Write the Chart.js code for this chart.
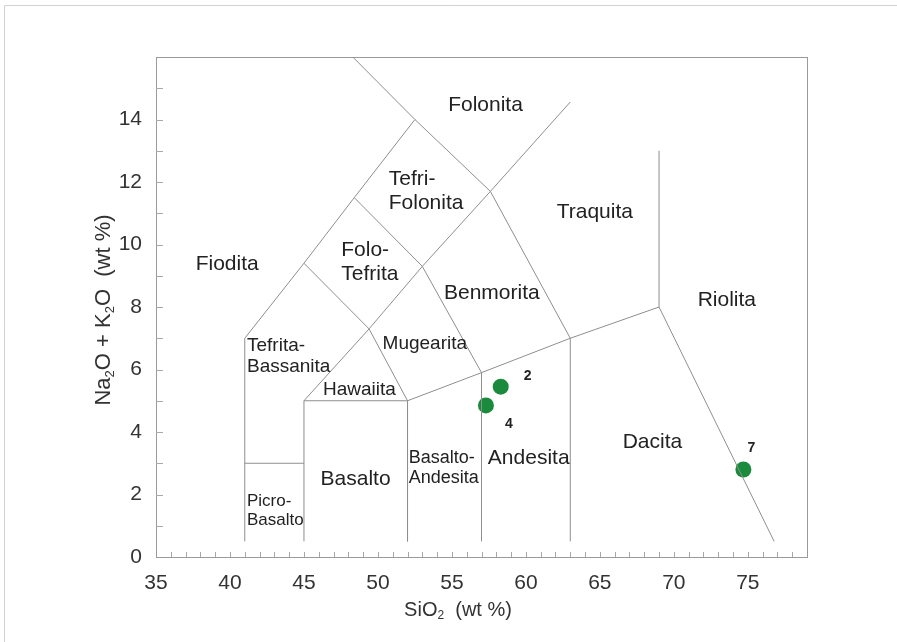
<!DOCTYPE html>
<html>
<head>
<meta charset="utf-8">
<title>TAS</title>
<script src="https://cdn.jsdelivr.net/npm/chart.js@4.4.1/dist/chart.umd.min.js"></script>
<style>
  html, body { margin: 0; padding: 0; background: #fff; }
  #wrap { width: 897px; height: 642px; position: relative; }
</style>
</head>
<body>
<div id="wrap"><canvas id="c" width="897" height="642"></canvas></div>
<script>
// Samples (SiO2 vs Na2O + K2O, wt %)
const sampleIds  = ['2', '4', '7'];
const sampleSiO2 = [58.3, 57.3, 74.7];
const sampleAlk  = [5.45, 4.85, 2.8];

// Axis ranges and labelled ticks
const xRange = [35, 79];
const yRange = [0, 16];
const xTickLabels = [35, 40, 45, 50, 55, 60, 65, 70, 75];
const yTickLabels = [0, 2, 4, 6, 8, 10, 12, 14];

// Field boundary polylines of the TAS classification, [SiO2, Na2O+K2O]
const fieldBoundaries = [
  [[41, 0.5], [41, 7], [45, 9.4], [48.4, 11.5], [52.5, 14], [48.3, 16]],
  [[41, 3], [45, 3]],
  [[45, 0.5], [45, 5], [52, 5], [52, 0.5]],
  [[45, 5], [49.4, 7.3], [53, 9.3], [57.6, 11.7], [63, 14.56]],
  [[45, 9.4], [49.4, 7.3], [52, 5], [57, 5.9], [63, 7], [69, 8], [76.78, 0.5]],
  [[57, 0.5], [57, 5.9]],
  [[63, 0.5], [63, 7]],
  [[69, 8], [69, 13]],
  [[48.4, 11.5], [53, 9.3], [57, 5.9]],
  [[52.5, 14], [57.6, 11.7], [63, 7]]
];

// Field names
const fieldNames = [
  'Folonita', 'Tefri-\nFolonita', 'Traquita', 'Fiodita', 'Folo-\nTefrita',
  'Benmorita', 'Mugearita', 'Riolita', 'Tefrita-\nBassanita', 'Hawaiita',
  'Basalto-\nAndesita', 'Andesita', 'Dacita', 'Basalto', 'Picro-\nBasalto'
];
// Where each name sits: [SiO2, Na2O+K2O, align, font size]
const fieldNamePlacement = [
  [57.27, 14.45, 'center', 21],
  [50.73, 12.08, 'left', 21],
  [64.66, 11.03, 'center', 21],
  [39.81, 9.36, 'center', 21],
  [47.52, 9.82, 'left', 21],
  [57.70, 8.45, 'center', 21],
  [53.17, 6.83, 'center', 19],
  [73.58, 8.22, 'center', 21],
  [41.15, 6.77, 'left', 19],
  [48.75, 5.36, 'center', 19],
  [52.08, 3.18, 'left', 18],
  [60.19, 3.17, 'center', 21],
  [68.55, 3.67, 'center', 21],
  [48.49, 2.50, 'center', 21],
  [41.15, 1.77, 'left', 17]
];
// Offsets (px) of the sample numbers from their markers
const sampleLabelOffsets = [[27, -11], [23, 19], [8, -21]];

const LINE = '#8e8e8e';
const TEXT = '#222';
const FONT = '"Liberation Sans", Arial, sans-serif';

const datasets = fieldBoundaries.map(poly => ({
  type: 'scatter',
  data: poly.map(p => ({ x: p[0], y: p[1] })),
  showLine: true,
  borderColor: LINE,
  borderWidth: 1,
  pointRadius: 0,
  tension: 0,
  fill: false
}));
datasets.push({
  type: 'scatter',
  data: sampleSiO2.map((x, i) => ({ x: x, y: sampleAlk[i] })),
  pointRadius: 8,
  pointHoverRadius: 8,
  backgroundColor: '#1a8a3c',
  borderWidth: 0
});

// Draws a string made of normal/subscript runs, centred on (0,0) of the current transform
function drawRuns(ctx, runs, size) {
  const subSize = Math.round(size * 0.6);
  let total = 0;
  runs.forEach(r => {
    ctx.font = (r[1] ? subSize : size) + 'px ' + FONT;
    total += ctx.measureText(r[0]).width;
  });
  let x = -total / 2;
  ctx.textAlign = 'left';
  ctx.textBaseline = 'middle';
  runs.forEach(r => {
    ctx.font = (r[1] ? subSize : size) + 'px ' + FONT;
    ctx.fillText(r[0], x, r[1] ? size * 0.3 : 0);
    x += ctx.measureText(r[0]).width;
  });
}

const decor = {
  id: 'decor',
  beforeDatasetsDraw(chart) {
    const ctx = chart.ctx;
    const a = chart.chartArea;
    const xs = chart.scales.x, ys = chart.scales.y;
    ctx.save();
    // outer frame
    ctx.strokeStyle = '#d2d2d2';
    ctx.lineWidth = 1;
    ctx.beginPath();
    ctx.moveTo(4.5, 642); ctx.lineTo(4.5, 5.5); ctx.lineTo(897, 5.5);
    ctx.stroke();
    // plot box
    ctx.strokeStyle = '#9a9a9a';
    ctx.strokeRect(Math.round(a.left) + 0.5, Math.round(a.top) + 0.5,
                   Math.round(a.right - a.left), Math.round(a.bottom - a.top));
    // minor ticks pointing inward
    ctx.strokeStyle = '#a8a8a8';
    ctx.beginPath();
    for (let v = xRange[0] + 1; v < xRange[1]; v++) {
      const px = Math.round(xs.getPixelForValue(v)) + 0.5;
      ctx.moveTo(px, a.bottom); ctx.lineTo(px, a.bottom - 5);
    }
    for (let v = yRange[0] + 1; v < yRange[1]; v++) {
      const py = Math.round(ys.getPixelForValue(v)) + 0.5;
      ctx.moveTo(a.left, py); ctx.lineTo(a.left + 7, py);
    }
    ctx.stroke();
    ctx.restore();
  },
  afterDatasetsDraw(chart) {
    const ctx = chart.ctx;
    const xs = chart.scales.x, ys = chart.scales.y;
    ctx.save();
    ctx.fillStyle = TEXT;
    // field names
    fieldNames.forEach((name, i) => {
      const p = fieldNamePlacement[i];
      const px = xs.getPixelForValue(p[0]);
      const py = ys.getPixelForValue(p[1]);
      ctx.font = p[3] + 'px ' + FONT;
      ctx.textAlign = p[2];
      ctx.textBaseline = 'middle';
      name.split('\n').forEach((ln, k) => {
        ctx.fillText(ln, px, py + k * Math.round(p[3] * 1.12));
      });
    });
    // sample numbers
    ctx.font = 'bold 14px ' + FONT;
    ctx.textAlign = 'center';
    ctx.textBaseline = 'middle';
    sampleIds.forEach((id, i) => {
      const px = xs.getPixelForValue(sampleSiO2[i]) + sampleLabelOffsets[i][0];
      const py = ys.getPixelForValue(sampleAlk[i]) + sampleLabelOffsets[i][1];
      ctx.fillText(id, px, py);
    });
    // axis titles
    ctx.fillStyle = '#333';
    ctx.save();
    ctx.translate(458, 610);
    drawRuns(ctx, [['SiO', 0], ['2', 1], ['  (wt %)', 0]], 20);
    ctx.restore();
    ctx.save();
    ctx.translate(104, 310);
    ctx.rotate(-Math.PI / 2);
    drawRuns(ctx, [['Na', 0], ['2', 1], ['O + K', 0], ['2', 1], ['O  (wt %)', 0]], 22);
    ctx.restore();
    ctx.restore();
  }
};

new Chart(document.getElementById('c'), {
  type: 'scatter',
  data: { datasets: datasets },
  plugins: [decor],
  options: {
    responsive: false,
    animation: false,
    events: [],
    layout: { padding: { top: 57, right: 90, left: 0, bottom: 0 } },
    plugins: { legend: { display: false }, tooltip: { enabled: false } },
    scales: {
      x: {
        type: 'linear',
        min: xRange[0], max: xRange[1],
        afterBuildTicks: s => { s.ticks = xTickLabels.map(v => ({ value: v })); },
        afterFit: s => { s.height = 85; },
        grid: { display: false, drawTicks: false },
        border: { display: false },
        ticks: { padding: 14, color: '#333', font: { family: FONT, size: 21 }, autoSkip: false, maxRotation: 0 }
      },
      y: {
        type: 'linear',
        min: yRange[0], max: yRange[1],
        afterBuildTicks: s => { s.ticks = yTickLabels.map(v => ({ value: v })); },
        afterFit: s => { s.width = 156; },
        grid: { display: false, drawTicks: false },
        border: { display: false },
        ticks: { padding: 14, color: '#333', font: { family: FONT, size: 21 }, autoSkip: false }
      }
    }
  }
});
</script>
</body>
</html>
